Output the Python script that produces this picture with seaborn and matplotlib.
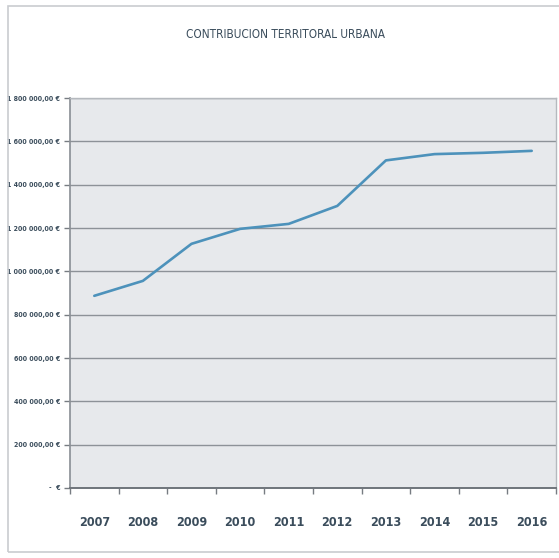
import matplotlib
matplotlib.use("Agg")
import matplotlib.pyplot as plt
from matplotlib.patches import Rectangle
from matplotlib.ticker import FixedLocator, FuncFormatter
import seaborn as sns
import pandas as pd
import numpy as np

# Urban land tax revenue per year (EUR)
years = ["2007", "2008", "2009", "2010", "2011", "2012", "2013", "2014", "2015", "2016"]
revenue = [887000, 956000, 1127000, 1196000, 1219000, 1302000, 1512000, 1541000, 1547000, 1556000]
y_ticks = [0, 200000, 400000, 600000, 800000, 1000000, 1200000, 1400000, 1600000, 1800000]
title = "CONTRIBUCION TERRITORAL URBANA"

df = pd.DataFrame({"year": years, "revenue": revenue})

sns.set_theme(style="white")
plt.rcParams["font.family"] = ["DejaVu Sans"]
plt.rcParams["font.stretch"] = "condensed"

text_color = "#3b4d5c"
grid_color = "#8d9298"

fig = plt.figure(figsize=(5.59, 5.58), dpi=100)
fig.patch.set_facecolor("white")

# outer chart frame
fig.add_artist(Rectangle((8 / 559, 6 / 558), 560 / 559, 546 / 558,
                         transform=fig.transFigure, fill=False,
                         edgecolor="#c9ccd0", linewidth=1.2))

ax = fig.add_axes([70 / 559, 70 / 558, 486 / 559, 390 / 558])
ax.set_facecolor("#e7e9ec")

sns.lineplot(data=df, x="year", y="revenue", ax=ax, color="#4d92bb",
             linewidth=1.9, sort=False)

ax.set_xlim(-0.5, len(years) - 0.5)
ax.set_ylim(0, 1800000)

ax.yaxis.set_major_locator(FixedLocator(y_ticks))


def euro(v, pos):
    if v == 0:
        return "-  €"
    s = f"{int(v):,}".replace(",", " ")
    return f"{s},00 €"


ax.yaxis.set_major_formatter(FuncFormatter(euro))
ax.grid(axis="y", color=grid_color, linewidth=1.0)
ax.grid(axis="x", visible=False)
ax.set_axisbelow(True)

ax.set_xticks(range(len(years)))
ax.set_xticklabels(years)
ax.set_xticks(np.arange(-0.5, len(years), 1.0), minor=True)

ax.tick_params(axis="x", which="major", length=0, pad=20, labelsize=9,
               labelcolor=text_color)
ax.tick_params(axis="x", which="minor", length=4, width=1.0, color="#777c82",
               direction="out", bottom=True)
ax.tick_params(axis="y", which="major", length=4, width=1.0, color="#777c82",
               direction="out", left=True, labelsize=5.0, labelcolor=text_color,
               pad=3)

for lbl in ax.get_yticklabels():
    lbl.set_fontweight("bold")
for lbl in ax.get_xticklabels():
    lbl.set_fontweight("bold")

ax.set_xlabel("")
ax.set_ylabel("")

for side in ["top", "right"]:
    ax.spines[side].set_color("#b5b9be")
    ax.spines[side].set_linewidth(1.0)
ax.spines["left"].set_color("#8d9298")
ax.spines["bottom"].set_color("#6f757b")
ax.spines["bottom"].set_linewidth(1.4)

fig.text(286 / 559, 1 - 34 / 558, title, ha="center", va="center",
         fontsize=8.5, color=text_color)

fig.savefig("out.png", dpi=100, facecolor="white")
